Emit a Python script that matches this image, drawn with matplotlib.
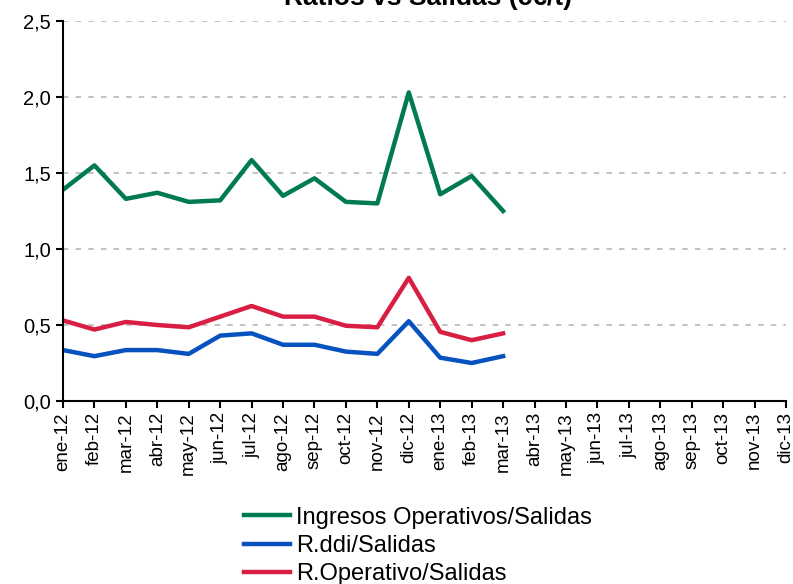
import numpy as np
import matplotlib
matplotlib.use("Agg")
import matplotlib.pyplot as plt

plt.rcParams['font.family'] = ['Liberation Sans', 'DejaVu Sans']

# Datos
meses = ['ene-12', 'feb-12', 'mar-12', 'abr-12', 'may-12', 'jun-12',
         'jul-12', 'ago-12', 'sep-12', 'oct-12', 'nov-12', 'dic-12',
         'ene-13', 'feb-13', 'mar-13', 'abr-13', 'may-13', 'jun-13',
         'jul-13', 'ago-13', 'sep-13', 'oct-13', 'nov-13', 'dic-13']

ingresos_salidas = [1.39, 1.55, 1.33, 1.37, 1.31, 1.32, 1.585, 1.35,
                    1.465, 1.31, 1.30, 2.03, 1.36, 1.48, 1.25]
rddi_salidas = [0.335, 0.295, 0.335, 0.335, 0.31, 0.43, 0.445, 0.37,
                0.37, 0.325, 0.31, 0.525, 0.285, 0.25, 0.295]
roper_salidas = [0.53, 0.47, 0.52, 0.50, 0.485, 0.555, 0.625, 0.555,
                 0.555, 0.495, 0.485, 0.81, 0.455, 0.40, 0.445]

yticks = [0.0, 0.5, 1.0, 1.5, 2.0, 2.5]

fig = plt.figure(figsize=(7.93, 5.84), dpi=100)
ax = fig.add_axes([63/793, 1 - 401/584, (786 - 63)/793, (401 - 21)/584])

x = np.arange(len(ingresos_salidas))
ax.plot(x, ingresos_salidas, color='#007A52', lw=3.2, label='Ingresos Operativos/Salidas')
ax.plot(x, rddi_salidas, color='#0652BE', lw=3.2, label='R.ddi/Salidas')
ax.plot(x, roper_salidas, color='#D81E42', lw=3.2, label='R.Operativo/Salidas')

# Rejilla discontinua
for v in yticks[1:]:
    ax.axhline(v, color='#BDBDBD', lw=1.3, ls=(0, (3, 4)), zorder=0)

ax.set_xlim(0, len(meses) - 1)
ax.set_ylim(0, 2.5)
ax.set_xticks(np.arange(len(meses)))
ax.set_xticklabels(meses, rotation=90, fontsize=13.5)
ax.set_yticks(yticks)
ax.set_yticklabels([f'{v:.1f}'.replace('.', ',') for v in yticks], fontsize=14.5)
ax.tick_params(direction='out', length=5, width=1.5, colors='black')
ax.tick_params(axis='x', pad=3)

for s in ['top', 'right']:
    ax.spines[s].set_visible(False)
for s in ['left', 'bottom']:
    ax.spines[s].set_linewidth(1.5)

fig.text(428/793, 1 - 5/584, 'Ratios vs Salidas (c€/t)', ha='center', va='baseline',
         fontsize=19, fontweight='bold')

fig.legend(loc='center', bbox_to_anchor=(418/793, 1 - 546/584), frameon=False,
           fontsize=17, handlelength=1.95, handletextpad=0.25, labelspacing=0.27)

fig.savefig('out.png', dpi=100)
